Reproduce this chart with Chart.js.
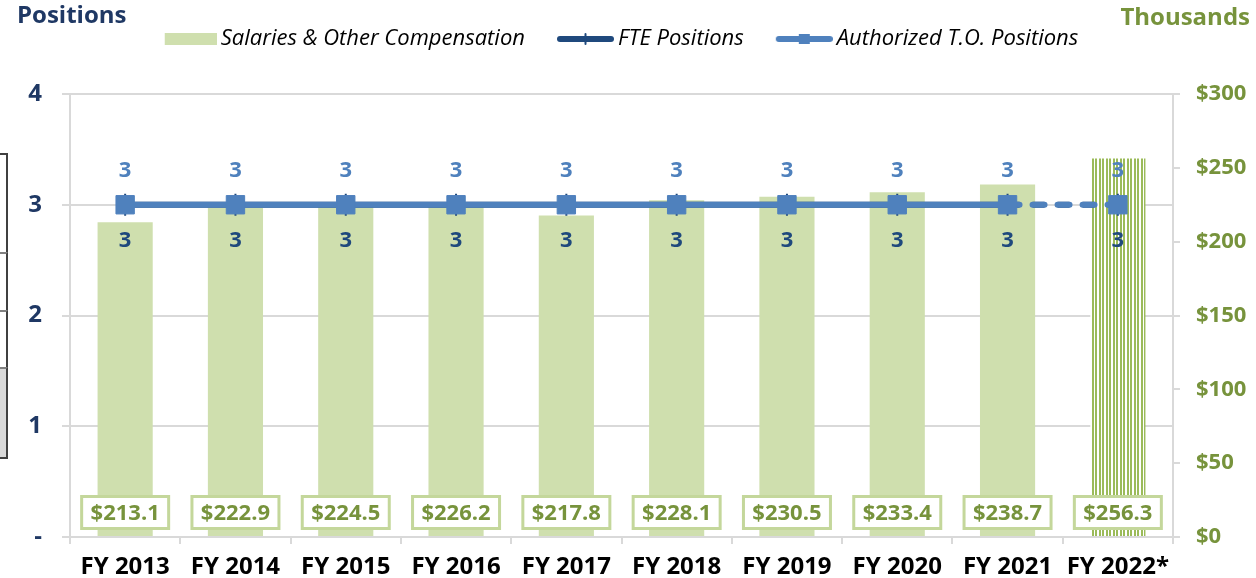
<!DOCTYPE html>
<html>
<head>
<meta charset="utf-8">
<script src="https://cdn.jsdelivr.net/npm/chart.js@4.4.1/dist/chart.umd.min.js"></script>
<style>
  body { margin: 0; background: #fff; }
  #wrap { position: relative; width: 1256px; height: 578px; }
  .stub { position: absolute; left: 0; width: 6px; border-right: 2px solid #404040; }
</style>
</head>
<body>
<div id="wrap">
  <canvas id="chart_positions" width="1256" height="578"></canvas>
  <div class="stub" style="top:153px;height:99px;border-top:2px solid #404040;"></div>
  <div class="stub" style="top:252px;height:58px;border-top:2px solid #808080;"></div>
  <div class="stub" style="top:310px;height:57px;border-top:2px solid #808080;"></div>
  <div class="stub" style="top:367px;height:88px;border-top:2px solid #808080;border-bottom:2px solid #404040;background:#d9d9d9;"></div>
</div>
<script>
const years = ["FY 2013", "FY 2014", "FY 2015", "FY 2016", "FY 2017", "FY 2018", "FY 2019", "FY 2020", "FY 2021", "FY 2022*"];
const salaries = [213.1, 222.9, 224.5, 226.2, 217.8, 228.1, 230.5, 233.4, 238.7, 256.3];
const ftePositions = [3, 3, 3, 3, 3, 3, 3, 3, 3, 3];
const authorizedPositions = [3, 3, 3, 3, 3, 3, 3, 3, 3, 3];

const barColor = "#cfdfae";
const stripeColor = "#9bbb59";
const boxBorder = "#c4d79b";
const moneyColor = "#77933c";
const fteColor = "#1f497d";
const authColor = "#4f81bd";
const navy = "#1f3864";
const gridColor = "#d9d9d9";
const fontFamily = "'Open Sans', 'DejaVu Sans', sans-serif";

const canvas = document.getElementById("chart_positions");
const ctx = canvas.getContext("2d");

// vertical stripes for the projected year (G G W G G W W)
function stripes() {
    const c = document.createElement("canvas");
    c.width = 7; c.height = 4;
    const g = c.getContext("2d");
    g.fillStyle = "#fff";
    g.fillRect(0, 0, 7, 4);
    g.fillStyle = stripeColor;
    g.fillRect(0, 0, 2, 4);
    g.fillRect(3, 0, 2, 4);
    return ctx.createPattern(c, "repeat");
}

const barFills = years.map((y, i) => i === years.length - 1 ? stripes() : barColor);

// legend icons, drawn flush right so the text sits close to them
function legendIcon(draw) {
    const c = document.createElement("canvas");
    c.width = 72; c.height = 16;
    draw(c.getContext("2d"));
    return c;
}
const iconSalaries = legendIcon(g => {
    g.fillStyle = barColor;
    g.fillRect(20, 2, 52, 12);
});
const iconFte = legendIcon(g => {
    g.strokeStyle = fteColor;
    g.lineCap = "round";
    g.lineWidth = 6;
    g.beginPath(); g.moveTo(18, 8); g.lineTo(69, 8); g.stroke();
    g.lineWidth = 2;
    g.beginPath(); g.moveTo(43.5, 3); g.lineTo(43.5, 13); g.stroke();
});
const iconAuth = legendIcon(g => {
    g.strokeStyle = authColor;
    g.lineCap = "round";
    g.lineWidth = 6;
    g.beginPath(); g.moveTo(18, 8); g.lineTo(69, 8); g.stroke();
    g.fillStyle = authColor;
    g.fillRect(38, 3, 11, 10);
});
const legendIcons = [iconSalaries, iconFte, iconAuth];

const dashLast = c => c.p1DataIndex === years.length - 1 ? [12, 13] : undefined;

const labelPlugin = {
    id: "valueLabels",
    afterDatasetsDraw(chart) {
        const c = chart.ctx;
        const bottom = chart.chartArea.bottom;
        c.save();
        c.textAlign = "center";
        c.textBaseline = "middle";

        // salary boxes along the bottom
        c.font = "bold 22px " + fontFamily;
        chart.getDatasetMeta(0).data.forEach((bar, i) => {
            const w = 87, h = 32, top = bottom - 40.5;
            c.fillStyle = "#fff";
            c.fillRect(bar.x - w / 2, top, w, h);
            c.strokeStyle = boxBorder;
            c.lineWidth = 3;
            c.strokeRect(bar.x - w / 2, top, w, h);
            c.fillStyle = moneyColor;
            c.fillText("$" + salaries[i].toFixed(1), bar.x, top + h / 2 + 1);
        });

        // position counts above / below the lines
        c.fillStyle = authColor;
        chart.getDatasetMeta(2).data.forEach((pt, i) => c.fillText(authorizedPositions[i], pt.x, pt.y - 34));
        c.fillStyle = fteColor;
        chart.getDatasetMeta(1).data.forEach((pt, i) => c.fillText(ftePositions[i], pt.x, pt.y + 36));
        c.restore();
    },
    afterDraw(chart) {
        const c = chart.ctx;
        c.save();
        c.font = "bold 24px " + fontFamily;
        c.textBaseline = "alphabetic";
        c.fillStyle = navy;
        c.textAlign = "left";
        c.fillText("Positions", 17, 23);
        c.fillStyle = moneyColor;
        c.textAlign = "right";
        c.fillText("Thousands", 1250, 25);
        c.restore();
    }
};

const chart_positions = new Chart(canvas, {
    type: "bar",
    data: {
        labels: years,
        datasets: [{
            label: "Salaries & Other Compensation",
            data: salaries,
            backgroundColor: barFills,
            yAxisID: "y1",
            barPercentage: 0.5,
            categoryPercentage: 1.0,
            order: 3
        },
        {
            type: "line",
            label: "FTE Positions",
            data: ftePositions,
            yAxisID: "y",
            borderColor: fteColor,
            backgroundColor: fteColor,
            borderWidth: 6,
            pointStyle: "line",
            pointRotation: 90,
            pointRadius: 11,
            pointBorderWidth: 2,
            segment: {borderDash: dashLast},
            order: 2
        },
        {
            type: "line",
            label: "Authorized T.O. Positions",
            data: authorizedPositions,
            yAxisID: "y",
            borderColor: authColor,
            backgroundColor: authColor,
            borderWidth: 6,
            borderCapStyle: "round",
            pointStyle: "rect",
            pointRadius: 13,
            pointBorderWidth: 1,
            segment: {borderDash: dashLast},
            order: 1
        }
    ]},
    options: {
        responsive: false,
        animation: false,
        // negative left padding only shifts the centred legend; axes widths below put the plot at x 70..1173
        layout: {padding: {top: 4, right: 0, left: -26, bottom: 0}},
        plugins: {
            tooltip: {enabled: false},
            legend: {
                position: "top",
                weight: 3000,
                labels: {
                    usePointStyle: true,
                    pointStyleWidth: 58,
                    padding: 24,
                    color: "#000",
                    font: {family: fontFamily, size: 22, style: "italic"},
                    generateLabels: chart => chart.data.datasets.map((ds, i) => ({
                        text: ds.label,
                        pointStyle: legendIcons[i],
                        fontColor: "#000",
                        fillStyle: "transparent",
                        strokeStyle: "transparent",
                        lineWidth: 0,
                        hidden: false,
                        datasetIndex: i
                    }))
                }
            },
            // empty title used as a spacer under the legend
            title: {display: true, text: "", font: {size: 10}, padding: {top: 0, bottom: 22}}
        },
        scales: {
            x: {
                offset: true,
                grid: {drawOnChartArea: false, drawTicks: true, tickLength: 7, color: gridColor, lineWidth: 2},
                border: {color: gridColor, width: 2},
                ticks: {color: "#000", font: {family: fontFamily, size: 24, weight: "bold"}, padding: 9, maxRotation: 0, autoSkip: false},
                afterFit: axis => { axis.height = 41; }
            },
            y: {
                position: "left",
                min: 0,
                max: 4,
                ticks: {
                    stepSize: 1,
                    color: navy,
                    padding: 20,
                    font: {family: fontFamily, size: 24, weight: "bold"},
                    callback: v => v === 0 ? "-" : v
                },
                grid: {color: gridColor, lineWidth: 2, tickLength: 8},
                border: {color: gridColor, width: 2},
                afterFit: axis => { axis.width = 96; }
            },
            y1: {
                position: "right",
                min: 0,
                max: 300,
                ticks: {
                    stepSize: 50,
                    color: moneyColor,
                    padding: 16,
                    font: {family: fontFamily, size: 22, weight: "bold"},
                    callback: v => "$" + v
                },
                grid: {drawOnChartArea: false, color: gridColor, lineWidth: 2, tickLength: 7},
                border: {color: gridColor, width: 2},
                afterFit: axis => { axis.width = 83; }
            }
        }
    },
    plugins: [labelPlugin]
});
</script>
</body>
</html>
